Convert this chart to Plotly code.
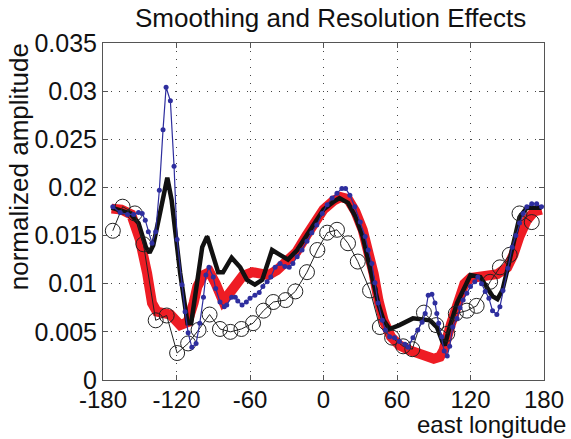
import plotly.graph_objects as go

# ---- data ----
red_lon = [-173, -165, -157, -150, -144, -140, -136, -130, -125, -117, -111, -106, -103, -98, -93, -88, -82, -78,
           -72, -66, -58, -50, -45, -38, -30, -22, -14, -6, 0, 8, 14, 20, 26, 32, 37, 41, 45, 49, 55, 62, 70,
           80, 90, 95, 98, 104, 109, 115, 120, 128, 135, 142, 150, 155, 160, 166, 172, 178]
red_val = [0.0178, 0.0177, 0.0172, 0.0146, 0.0111, 0.0080, 0.0071, 0.0070, 0.0068, 0.0057, 0.0060, 0.0080,
           0.0097, 0.0109, 0.0112, 0.0100, 0.0082, 0.0088, 0.0100, 0.0108, 0.0112, 0.0111, 0.0109, 0.0114,
           0.0122, 0.0133, 0.0150, 0.0166, 0.0177, 0.0186, 0.0190, 0.0188, 0.0175, 0.0156, 0.0132, 0.0110,
           0.0082, 0.0062, 0.0045, 0.0036, 0.0031, 0.0026, 0.0022, 0.0024, 0.0031, 0.0058, 0.0080, 0.0100,
           0.0106, 0.0107, 0.0107, 0.0110, 0.0117, 0.0130, 0.0149, 0.0166, 0.0175, 0.0177]

black_lon = [-173, -165, -158, -151, -145, -142, -139, -134, -129, -127.5, -124, -117, -111, -108, -99, -95,
             -86, -82, -75, -68, -62.5, -56, -50, -42, -35.5, -29, -21.5, -13.5, -6, 0, 8, 13, 20, 26, 32,
             36, 40, 45, 49, 54, 62, 73, 87, 92.5, 97, 99, 103, 109, 117, 120, 128, 134, 138, 142, 146, 150,
             155, 160, 166, 172, 178]
black_val = [0.0179, 0.0176, 0.0173, 0.0163, 0.0138, 0.0132, 0.0140, 0.0170, 0.0205, 0.0210, 0.0187, 0.0111,
             0.0059, 0.0059, 0.0138, 0.0149, 0.0112, 0.0112, 0.0127, 0.0117, 0.0104, 0.0099, 0.0104, 0.0135,
             0.0130, 0.0125, 0.0135, 0.0151, 0.0166, 0.0177, 0.0185, 0.0189, 0.0184, 0.0170, 0.0149, 0.0127,
             0.0104, 0.0078, 0.0062, 0.0053, 0.0057, 0.0064, 0.0062, 0.0055, 0.0040, 0.0036, 0.0055, 0.0080,
             0.0101, 0.0109, 0.0107, 0.0094, 0.0087, 0.0084, 0.0093, 0.0114, 0.0142, 0.0169, 0.0179, 0.0179,
             0.0179]

blue_lon = [-172, -166, -160, -155, -151, -148, -145.5, -143, -140, -137, -134, -131, -128.5, -125, -122,
            -119.5, -115.5, -113, -110.5, -107.5, -104, -101, -98, -96, -93.5, -90, -88, -84.5, -81, -79, -75,
            -72, -70, -66.5, -63, -60, -56, -52.5, -49.5, -46, -43, -39.5, -35.5, -31.5, -28, -25, -21.5,
            -17.5, -13.5, -9.5, -5.5, -1, 3, 7, 11, 15, 18, 21.5, 25.5, 30, 34, 36.5, 39.5, 42, 44.5, 48,
            50.5, 54, 58, 62, 66.5, 69, 73, 77, 80.5, 83, 85.5, 88.5, 91, 92.5, 94, 96.5, 98.5, 101, 103,
            105.5, 109, 111.5, 114, 117, 120, 123.5, 126, 129, 132, 135, 138, 141.5, 144, 146.5, 150.5, 154,
            157, 160, 163, 166, 170, 174, 178]
blue_val = [0.0180, 0.0174, 0.0172, 0.0172, 0.0174, 0.0173, 0.0166, 0.0154, 0.0142, 0.0154, 0.0197, 0.0260,
            0.0304, 0.0290, 0.0222, 0.0146, 0.0099, 0.0071, 0.0049, 0.0034, 0.0038, 0.0059, 0.0086, 0.0109,
            0.0117, 0.0107, 0.0095, 0.0081, 0.0076, 0.0078, 0.0086, 0.0086, 0.0082, 0.0078, 0.0081, 0.0085,
            0.0088, 0.0091, 0.0097, 0.0102, 0.0107, 0.0117, 0.0121, 0.0118, 0.0117, 0.0121, 0.0128, 0.0135,
            0.0144, 0.0153, 0.0161, 0.0173, 0.0182, 0.0189, 0.0194, 0.0199, 0.0199, 0.0192, 0.0180, 0.0164,
            0.0149, 0.0135, 0.0121, 0.0101, 0.0080, 0.0062, 0.0052, 0.0045, 0.0044, 0.0040, 0.0037, 0.0034,
            0.0044, 0.0052, 0.0060, 0.0069, 0.0088, 0.0089, 0.0080, 0.0069, 0.0059, 0.0045, 0.0030, 0.0025,
            0.0035, 0.0055, 0.0064, 0.0075, 0.0083, 0.0090, 0.0097, 0.0102, 0.0107, 0.0100, 0.0092, 0.0085,
            0.0072, 0.0068, 0.0076, 0.0093, 0.0116, 0.0138, 0.0150, 0.0163, 0.0173, 0.0180, 0.0183, 0.0183,
            0.0180]

circ_lon = [-172, -164, -154, -147, -137, -128, -119.5, -110.5, -102, -93, -84.5, -76, -67, -57.5, -49, -41,
            -31, -23, -13.5, -5, 3, 11, 20, 28, 38, 46, 56, 65, 72.5, 82, 92, 101, 108, 117, 125, 136, 144,
            152, 160, 170]
circ_val = [0.0155, 0.0180, 0.0173, 0.0141, 0.0062, 0.0067, 0.0028, 0.0038, 0.0052, 0.0068, 0.0053, 0.0050,
            0.0053, 0.0059, 0.0072, 0.0081, 0.0083, 0.0092, 0.0112, 0.0135, 0.0153, 0.0156, 0.0142, 0.0123,
            0.0093, 0.0055, 0.0044, 0.0035, 0.0032, 0.0070, 0.0057, 0.0048, 0.0069, 0.0072, 0.0077, 0.0102,
            0.0117, 0.0130, 0.0173, 0.0164]

x_ticks = [-180, -120, -60, 0, 60, 120, 180]
y_ticks = [0, 0.005, 0.01, 0.015, 0.02, 0.025, 0.03, 0.035]
y_tick_text = ["0", "0.005", "0.01", "0.015", "0.02", "0.025", "0.03", "0.035"]

FONT = "Liberation Sans, Arial, sans-serif"

fig = go.Figure()
fig.add_trace(go.Scatter(x=red_lon, y=red_val, mode="lines",
                         line=dict(color="#ee1c24", width=10), showlegend=False))
fig.add_trace(go.Scatter(x=black_lon, y=black_val, mode="lines",
                         line=dict(color="#111111", width=4.5), showlegend=False))
fig.add_trace(go.Scatter(x=circ_lon, y=circ_val, mode="lines+markers",
                         line=dict(color="#222222", width=1),
                         marker=dict(symbol="circle-open", size=15, color="#222222",
                                     line=dict(width=1, color="#222222")),
                         showlegend=False))
fig.add_trace(go.Scatter(x=blue_lon, y=blue_val, mode="lines+markers",
                         line=dict(color="#2e2e9e", width=1.2),
                         marker=dict(symbol="circle", size=5, color="#2e2e9e"),
                         showlegend=False))

axis_common = dict(showline=True, linecolor="#555555", linewidth=1, mirror="ticks",
                   ticks="inside", ticklen=5, tickcolor="#555555",
                   showgrid=True, gridcolor="#444444", gridwidth=1, griddash="1px,7px",
                   zeroline=False, automargin=False)

fig.update_xaxes(range=[-180, 180], tickvals=x_ticks, ticktext=[str(v) for v in x_ticks],
                 tickfont=dict(family=FONT, size=24, color="#111111"), ticklabelstandoff=-2,
                 **axis_common)
fig.update_yaxes(range=[0, 0.035], tickvals=y_ticks, ticktext=y_tick_text,
                 tickfont=dict(family=FONT, size=25, color="#111111"), **axis_common)

fig.update_layout(
    width=571, height=439,
    margin=dict(l=103, r=27, t=43, b=59),
    plot_bgcolor="white", paper_bgcolor="white",
    annotations=[
        dict(text="Smoothing and Resolution Effects", xref="paper", yref="paper",
             x=0.515, y=1.074, xanchor="center", yanchor="middle", showarrow=False,
             font=dict(family=FONT, size=26, color="#111111")),
        dict(text="east longitude", xref="paper", yref="paper",
             x=1.054, y=-0.132, xanchor="right", yanchor="middle", showarrow=False,
             font=dict(family=FONT, size=24, color="#111111")),
        dict(text="normalized amplitude", xref="paper", yref="paper",
             x=-0.19, y=0.632, xanchor="center", yanchor="middle", showarrow=False,
             textangle=-90, font=dict(family=FONT, size=26, color="#111111")),
    ],
)

fig.write_html("out.html")
